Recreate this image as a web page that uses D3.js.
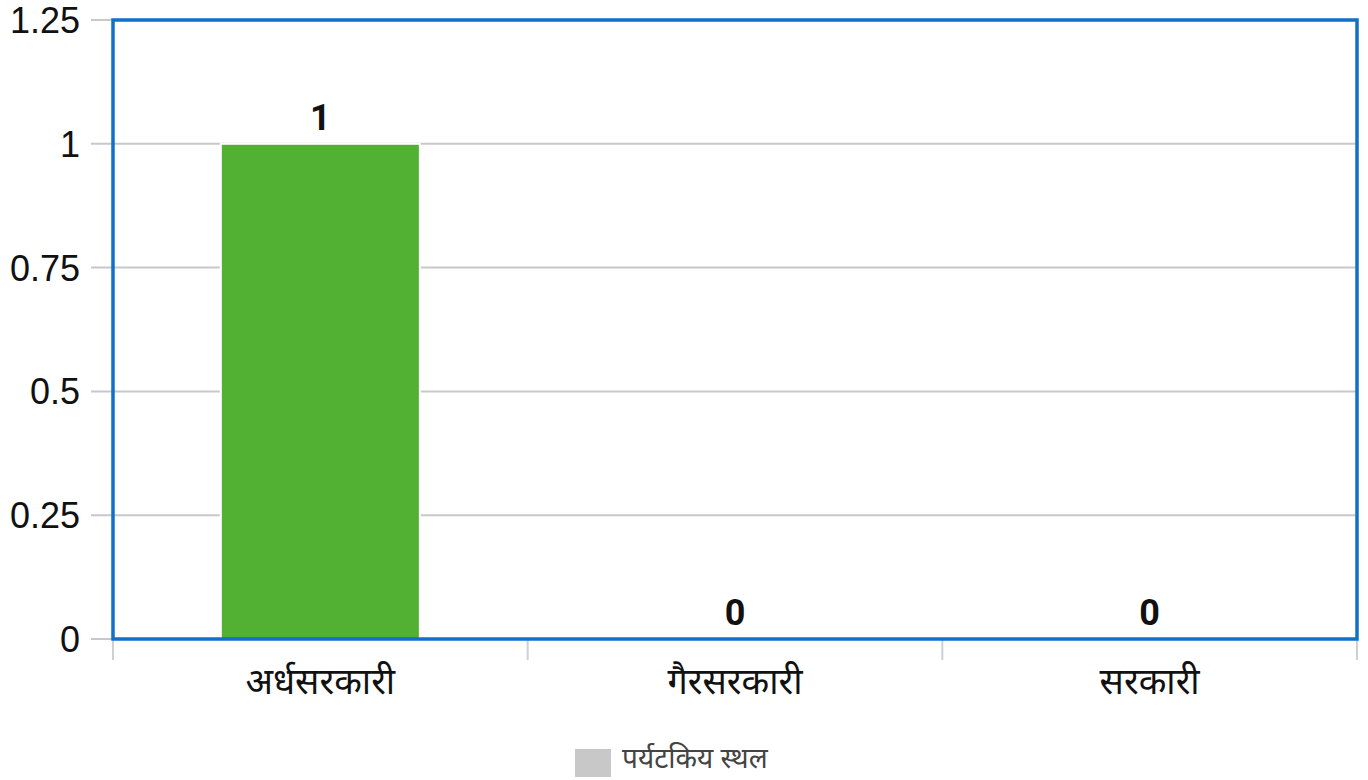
<!DOCTYPE html>
<html><head><meta charset="utf-8">
<script src="https://cdn.jsdelivr.net/npm/d3@7"></script>
<style>
html,body{margin:0;padding:0;background:#fff;}
svg{display:block;}
</style></head>
<body>
<svg id="chart" width="1368" height="780"></svg>
<script>
const categories = ["अर्धसरकारी", "गैरसरकारी", "सरकारी"];
const values = [1, 0, 0];
const yTicks = [0, 0.25, 0.5, 0.75, 1, 1.25];
const yTickLabels = ["0", "0.25", "0.5", "0.75", "1", "1.25"];
const seriesName = "पर्यटकिय स्थल";

const svg = d3.select("#chart");
const L = 113, R = 1357, T = 20, B = 639;
const x = d3.scaleBand().domain(categories).range([L, R]).paddingInner(0.52).paddingOuter(0.26);
const y = d3.scaleLinear().domain([0, 1.25]).range([B, T]);
const font = "'Liberation Sans', Arial, sans-serif";
const boldFont = "Roboto, 'Liberation Sans', Arial, sans-serif";
const devFont = "'Noto Sans Devanagari', 'Lohit Devanagari', 'Noto Sans', sans-serif";

// gridlines
svg.append("g").selectAll("line").data(yTicks).join("line")
  .attr("x1", 91).attr("x2", R)
  .attr("y1", d => y(d)).attr("y2", d => y(d))
  .attr("stroke", "#c8c8c8").attr("stroke-width", 2);

// y labels
svg.append("g").selectAll("text").data(yTicks).join("text")
  .attr("x", 80).attr("y", d => y(d)).attr("dy", "0.36em")
  .attr("text-anchor", "end").attr("font-family", font).attr("font-size", 36)
  .attr("fill", "#111").text((d, i) => yTickLabels[i]);

// category separators
const seps = [L].concat(categories.map((c) => x(c) + x.bandwidth() + x.step() * x.paddingInner() / 2));
seps[seps.length - 1] = R;
svg.append("g").selectAll("line").data(seps).join("line")
  .attr("x1", d => d).attr("x2", d => d).attr("y1", B).attr("y2", 660)
  .attr("stroke", "#ccd0d8").attr("stroke-width", 2);

// bars
svg.append("g").selectAll("rect").data(values).join("rect")
  .attr("x", (d, i) => x(categories[i])).attr("width", x.bandwidth())
  .attr("y", d => y(d)).attr("height", d => B - y(d))
  .attr("fill", "#52b133").attr("stroke", "#fff").attr("stroke-width", 2);

// value labels
svg.append("g").selectAll("text").data(values).join("text")
  .attr("x", (d, i) => x(categories[i]) + x.bandwidth() / 2)
  .attr("y", d => y(d) - 14)
  .attr("text-anchor", "middle").attr("font-family", boldFont).attr("font-weight", "bold")
  .attr("font-size", 36).attr("fill", "#111").text(d => d);

// border
svg.append("rect").attr("x", L).attr("y", T).attr("width", R - L).attr("height", B - T)
  .attr("fill", "none").attr("stroke", "#1170c9").attr("stroke-width", 3.5);

// category labels
svg.append("g").selectAll("text").data(categories).join("text")
  .attr("x", d => x(d) + x.bandwidth() / 2).attr("y", 694)
  .attr("text-anchor", "middle").attr("font-family", devFont).attr("font-size", 36)
  .attr("fill", "#111").text(d => d);

// legend
svg.append("rect").attr("x", 575).attr("y", 749).attr("width", 36).attr("height", 28).attr("fill", "#c8c8c8");
svg.append("text").attr("x", 622).attr("y", 768).attr("font-family", devFont).attr("font-size", 28)
  .attr("fill", "#444").text(seriesName);
</script>
</body></html>
